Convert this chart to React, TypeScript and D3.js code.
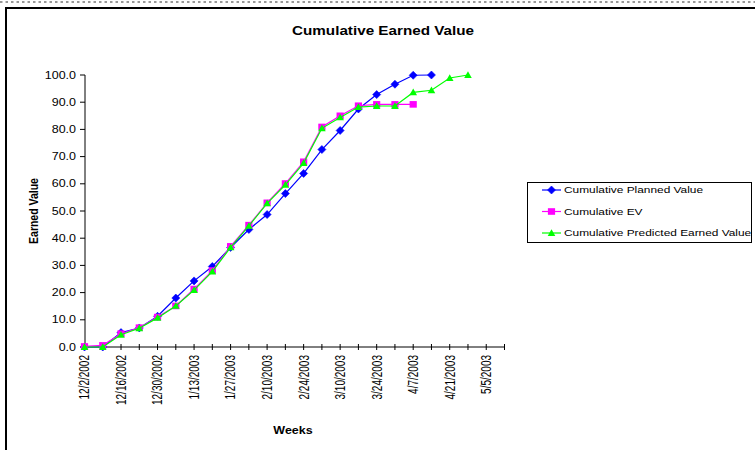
import React from "react";
import * as d3 from "d3";

const weekLabels = [
  "12/2/2002", "12/16/2002", "12/30/2002", "1/13/2003", "1/27/2003", "2/10/2003",
  "2/24/2003", "3/10/2003", "3/24/2003", "4/7/2003", "4/21/2003", "5/5/2003",
];
const yTicks = [0, 10, 20, 30, 40, 50, 60, 70, 80, 90, 100];

const plannedValue = [0, 0, 5.3, 7.0, 11.3, 18.0, 24.3, 29.6, 36.6, 43.2, 48.7, 56.4, 63.8, 72.6, 79.6, 87.5, 92.8, 96.6, 99.9, 100];
const cumulativeEV = [0.2, 0.6, 4.9, 7.1, 11.0, 15.1, 21.3, 28.1, 37.0, 44.8, 53.0, 60.1, 68.1, 80.9, 85.0, 88.7, 89.2, 89.2, 89.2];
const predictedEV = [0, 0, 4.5, 6.9, 10.7, 15.1, 20.9, 27.7, 36.6, 44.5, 52.8, 59.6, 67.6, 80.4, 84.4, 88.2, 88.6, 88.6, 93.6, 94.4, 98.9, 100];

const seriesNames = ["Cumulative Planned Value", "Cumulative EV", "Cumulative Predicted Earned Value"];
const seriesColors = ["#0000FF", "#FF00FF", "#00FF00"];
const seriesData = [plannedValue, cumulativeEV, predictedEV];
const markerKinds = ["diamond", "square", "triangle"];

const W = 755, H = 450;
const SX = 1.25;
const FONT = "Arial, 'Liberation Sans', sans-serif";

function marker(kind: string, x: number, y: number, color: string, key: string) {
  if (kind === "diamond") {
    const p = `M${x},${y - 4}L${x + 4},${y}L${x},${y + 4}L${x - 4},${y}Z`;
    return <path key={key} d={p} fill={color} stroke={color} strokeWidth={0.6} />;
  }
  if (kind === "square") {
    return <rect key={key} x={x - 3.6} y={y - 3.3} width={7.2} height={6.6} fill={color} />;
  }
  const p = `M${x},${y - 3.8}L${x + 3.8},${y + 2.9}L${x - 3.8},${y + 2.9}Z`;
  return <path key={key} d={p} fill={color} />;
}

export default function App() {
  const x = d3.scaleLinear().domain([0, 23]).range([84.5, 504.5]);
  const y = d3.scaleLinear().domain([0, 100]).range([347, 75]);
  const line = d3.line<number>().x((_, i) => x(i)).y((d) => y(d));
  const weeks = d3.range(0, 24);

  return (
    <svg width={W} height={H} style={{ position: "fixed", left: 0, top: 0, background: "#fff" }} fontFamily={FONT}>
      <rect x={0} y={0} width={W} height={H} fill="#fff" />
      <line x1={0} x2={W} y1={2} y2={2} stroke="#999" strokeWidth={2} strokeDasharray="2.5,3" />
      <rect x={6} y={8} width={W + 20} height={H + 20} fill="none" stroke="#000" strokeWidth={2} />

      <text transform={`translate(383,35) scale(${SX},1)`} textAnchor="middle" fontSize={12.2} fontWeight="bold">
        Cumulative Earned Value
      </text>

      {/* Y axis */}
      <line x1={85} x2={85} y1={y(100)} y2={y(0)} stroke="#000" strokeWidth={1} />
      {yTicks.map((t) => (
        <g key={"yt" + t}>
          <line x1={80} x2={85} y1={y(t)} y2={y(t)} stroke="#000" />
          <text transform={`translate(76,${y(t)}) scale(${SX},1)`} textAnchor="end" dy="0.35em" fontSize={10}>
            {t.toFixed(1)}
          </text>
        </g>
      ))}
      <text transform={`translate(33,211) scale(${SX},1) rotate(-90)`} textAnchor="middle" dy="0.35em" fontSize={10.5} fontWeight="bold">
        Earned Value
      </text>

      {/* X axis */}
      <line x1={85} x2={x(23)} y1={y(0)} y2={y(0)} stroke="#000" />
      {weeks.map((w) => (
        <line key={"xt" + w} x1={x(w)} x2={x(w)} y1={y(0) - 3} y2={y(0) + 3} stroke="#000" />
      ))}
      {weekLabels.map((lab, i) => (
        <text key={lab} transform={`translate(${x(i * 2)},355) scale(1.4,1) rotate(-90)`} textAnchor="end" dy="0.35em" fontSize={10}>
          {lab}
        </text>
      ))}
      <text transform={`translate(293,434) scale(${SX},1)`} textAnchor="middle" fontSize={10} fontWeight="bold">
        Weeks
      </text>

      {/* Series */}
      {seriesData.map((data, si) => (
        <g key={"s" + si}>
          <path d={line(data) || ""} fill="none" stroke={seriesColors[si]} strokeWidth={1.2} />
          {data.map((v, i) => marker(markerKinds[si], x(i), y(v), seriesColors[si], `m${si}-${i}`))}
        </g>
      ))}

      {/* Legend */}
      <rect x={527.5} y={182.5} width={224} height={60} fill="#fff" stroke="#000" strokeWidth={1} />
      {seriesNames.map((name, i) => {
        const ly = 190 + i * 21.5;
        return (
          <g key={name}>
            <line x1={542} x2={561} y1={ly} y2={ly} stroke={seriesColors[i]} strokeWidth={1.2} />
            {marker(markerKinds[i], 551.5, ly, seriesColors[i], "lg" + i)}
            <text transform={`translate(564,${ly}) scale(${SX},1)`} dy="0.35em" fontSize={9.5}>
              {name}
            </text>
          </g>
        );
      })}
    </svg>
  );
}
